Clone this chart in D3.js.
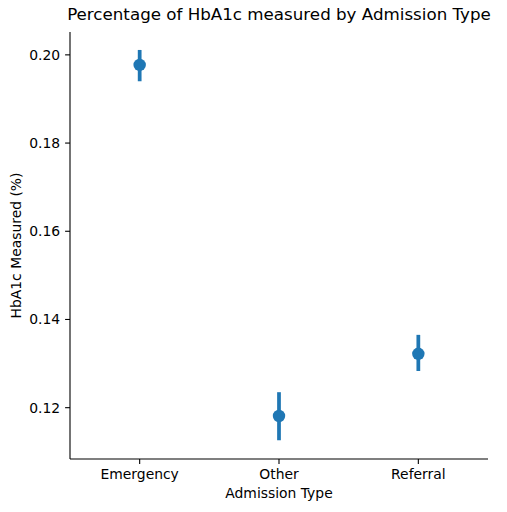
<!DOCTYPE html>
<html>
<head>
<meta charset="utf-8">
<script src="https://cdn.jsdelivr.net/npm/d3@7"></script>
<style>
  body { margin: 0; background: #fff; }
  text { font-family: "DejaVu Sans", sans-serif; fill: #000; }
</style>
</head>
<body>
<div id="chart"></div>
<script>
// data
const admissionTypes = ["Emergency", "Other", "Referral"]
const meanMeasured = [0.1976, 0.1180, 0.1321]
const ciLow = [0.1939, 0.1125, 0.1282]
const ciHigh = [0.2010, 0.1234, 0.1364]
const yTicks = [0.12, 0.14, 0.16, 0.18, 0.20]

const W = 507, H = 512
const margin = {top: 32, right: 19, bottom: 53, left: 70},
    width = W - margin.left - margin.right,
    height = H - margin.top - margin.bottom;

const svg = d3.select("#chart")
  .append("svg")
  .attr("width", W)
  .attr("height", H)

const g = svg.append("g")
  .attr("transform", `translate(${margin.left},${margin.top})`)

const x = d3.scaleBand()
  .domain(admissionTypes)
  .range([0, width])

const y = d3.scaleLinear()
  .domain([0.10825, 0.20507])
  .range([height, 0])

// axes
const xAxis = g.append("g")
  .attr("transform", `translate(0,${height})`)
  .call(d3.axisBottom(x).tickSize(4.9).tickPadding(4.9))
xAxis.selectAll("text").style("font-size", "13.9px")

const yAxis = g.append("g")
  .call(d3.axisLeft(y).tickValues(yTicks).tickFormat(d3.format(".2f")).tickSize(4.9).tickPadding(4.9))
yAxis.selectAll("text").style("font-size", "13.9px").attr("dy", "0.36em")

;[xAxis, yAxis].forEach(a => {
  a.selectAll("path, line").attr("stroke", "#000").attr("stroke-width", 1.1)
  a.selectAll("text").style("font-family", "DejaVu Sans, sans-serif")
})
yAxis.select(".domain").attr("d", `M0,${height}V0`)
xAxis.select(".domain").attr("d", `M0,0H${width}`)

// error bars
const color = "#1f77b4"
const rows = admissionTypes.map((t, i) => ({t, m: meanMeasured[i], lo: ciLow[i], hi: ciHigh[i]}))

g.selectAll(".ci")
  .data(rows)
  .join("line")
  .attr("class", "ci")
  .attr("x1", d => x(d.t) + x.bandwidth() / 2)
  .attr("x2", d => x(d.t) + x.bandwidth() / 2)
  .attr("y1", d => y(d.lo))
  .attr("y2", d => y(d.hi))
  .attr("stroke", color)
  .attr("stroke-width", 3.75)

g.selectAll(".pt")
  .data(rows)
  .join("circle")
  .attr("class", "pt")
  .attr("cx", d => x(d.t) + x.bandwidth() / 2)
  .attr("cy", d => y(d.m))
  .attr("r", 6.2)
  .attr("fill", color)

// title and labels
svg.append("text")
  .attr("x", margin.left + width / 2)
  .attr("y", 20)
  .attr("text-anchor", "middle")
  .style("font-size", "16.7px")
  .text("Percentage of HbA1c measured by Admission Type")

svg.append("text")
  .attr("x", margin.left + width / 2)
  .attr("y", 498)
  .attr("text-anchor", "middle")
  .style("font-size", "13.9px")
  .text("Admission Type")

svg.append("text")
  .attr("transform", `translate(21,${margin.top + height / 2}) rotate(-90)`)
  .attr("text-anchor", "middle")
  .style("font-size", "13.9px")
  .text("HbA1c Measured (%)")
</script>
</body>
</html>
